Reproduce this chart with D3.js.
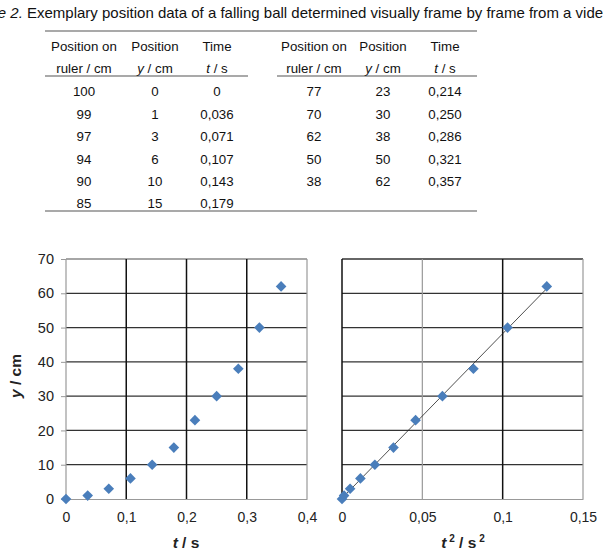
<!DOCTYPE html>
<html>
<head>
<script src="https://cdn.jsdelivr.net/npm/d3@7/dist/d3.min.js"></script>
<style>
  body { margin: 0; background: #fff; }
  text { font-family: "Liberation Sans", Arial, sans-serif; }
</style>
</head>
<body>
<script>
// table data
var ruler = [100, 99, 97, 94, 90, 85, 77, 70, 62, 50, 38];
var posY = [0, 1, 3, 6, 10, 15, 23, 30, 38, 50, 62];
var timeT = ["0", "0,036", "0,071", "0,107", "0,143", "0,179", "0,214", "0,250", "0,286", "0,321", "0,357"];
var timeVal = [0, 0.036, 0.071, 0.107, 0.143, 0.179, 0.214, 0.250, 0.286, 0.321, 0.357];

var xTicks1 = [0, 0.1, 0.2, 0.3, 0.4];
var xTicks2 = [0, 0.05, 0.1, 0.15];
var yTicks = [0, 10, 20, 30, 40, 50, 60, 70];

var W = 603, H = 553;
var svg = d3.select('body').append('svg')
  .attr('width', W).attr('height', H);

// caption
var cap = svg.append('text').attr('x', -30).attr('y', 18)
  .attr('font-size', 15).attr('fill', '#111');
cap.append('tspan').attr('font-style', 'italic').text('Table 2.');
cap.append('tspan').text(' Exemplary position data of a falling ball determined visually frame by frame from a video');

// table
var tbl = svg.append('g').attr('font-size', 13.3).attr('fill', '#111');
svg.append('line').attr('x1', 45).attr('x2', 477).attr('y1', 31).attr('y2', 31).attr('stroke', '#555').attr('stroke-width', 1.2);
svg.append('line').attr('x1', 45).attr('x2', 248).attr('y1', 76).attr('y2', 76).attr('stroke', '#555').attr('stroke-width', 1.2);
svg.append('line').attr('x1', 277).attr('x2', 477).attr('y1', 76).attr('y2', 76).attr('stroke', '#555').attr('stroke-width', 1.2);
svg.append('line').attr('x1', 45).attr('x2', 477).attr('y1', 211).attr('y2', 211).attr('stroke', '#555').attr('stroke-width', 1.2);

var colX = [[84, 155, 217], [314, 383, 445]];
var rowY = [96, 118.5, 141, 163.5, 186, 208];

colX.forEach(function(cx) {
  tbl.append('text').attr('x', cx[0]).attr('y', 51).attr('text-anchor', 'middle').text('Position on');
  tbl.append('text').attr('x', cx[0]).attr('y', 73).attr('text-anchor', 'middle').text('ruler / cm');
  tbl.append('text').attr('x', cx[1]).attr('y', 51).attr('text-anchor', 'middle').text('Position');
  var t2 = tbl.append('text').attr('x', cx[1]).attr('y', 73).attr('text-anchor', 'middle');
  t2.append('tspan').attr('font-style', 'italic').text('y');
  t2.append('tspan').text(' / cm');
  tbl.append('text').attr('x', cx[2]).attr('y', 51).attr('text-anchor', 'middle').text('Time');
  var t3 = tbl.append('text').attr('x', cx[2]).attr('y', 73).attr('text-anchor', 'middle');
  t3.append('tspan').attr('font-style', 'italic').text('t');
  t3.append('tspan').text(' / s');
});

ruler.forEach(function(r, i) {
  var c = i < 6 ? colX[0] : colX[1];
  var ry = rowY[i < 6 ? i : i - 6];
  tbl.append('text').attr('x', c[0]).attr('y', ry).attr('text-anchor', 'middle').text(r);
  tbl.append('text').attr('x', c[1]).attr('y', ry).attr('text-anchor', 'middle').text(posY[i]);
  tbl.append('text').attr('x', c[2]).attr('y', ry).attr('text-anchor', 'middle').text(timeT[i]);
});

// charts
var plotTop = 259, plotBottom = 499;
var y = d3.scaleLinear().domain([0, 70]).range([plotBottom, plotTop]);
var fmt = function(d) { return String(d).replace('.', ','); };
var blue = '#4a7ebb';
var diamond = d3.symbol().type(d3.symbolDiamond2).size(72);

function chart(x, ticks, darkV, leftDark, withYAxis) {
  var g = svg.append('g');
  // horizontal grid
  g.selectAll('.hg').data(yTicks.slice(1)).enter().append('line')
    .attr('x1', x.range()[0]).attr('x2', x.range()[1])
    .attr('y1', y).attr('y2', y)
    .attr('stroke', function(d) { return (d === 70 && !leftDark) ? '#888' : '#333'; })
    .attr('stroke-width', 1.3);
  // vertical grid
  g.selectAll('.vg').data(ticks.slice(1)).enter().append('line')
    .attr('x1', x).attr('x2', x).attr('y1', plotTop).attr('y2', plotBottom)
    .attr('stroke', function(d) { return darkV.indexOf(d) >= 0 ? '#111' : '#999'; })
    .attr('stroke-width', function(d) { return darkV.indexOf(d) >= 0 ? 1.5 : 1.2; });
  // left border
  g.append('line').attr('x1', x.range()[0]).attr('x2', x.range()[0]).attr('y1', plotTop).attr('y2', plotBottom)
    .attr('stroke', leftDark ? '#111' : '#999').attr('stroke-width', leftDark ? 1.5 : 1.2);
  // bottom axis
  var xa = g.append('g').attr('transform', 'translate(0,' + plotBottom + ')')
    .call(d3.axisBottom(x).tickValues(ticks).tickFormat(fmt).tickSize(0).tickPadding(13));
  xa.select('.domain').attr('stroke', '#999').attr('stroke-width', 1.2);
  xa.selectAll('text').attr('font-size', 14).attr('fill', '#222')
    .attr('font-family', '"Liberation Sans", Arial, sans-serif');
  if (withYAxis) {
    var ya = g.append('g').attr('transform', 'translate(' + x.range()[0] + ',0)')
      .call(d3.axisLeft(y).tickValues(yTicks).tickSize(5).tickPadding(7));
    ya.select('.domain').remove();
    ya.selectAll('line').attr('stroke', '#999');
    ya.selectAll('text').attr('font-size', 14.5).attr('fill', '#222')
      .attr('font-family', '"Liberation Sans", Arial, sans-serif');
  }
  return g;
}

var x1 = d3.scaleLinear().domain([0, 0.4]).range([66, 307]);
var g1 = chart(x1, xTicks1, [0.1, 0.2, 0.3], false, true);
g1.selectAll('.pt').data(timeVal).enter().append('path')
  .attr('d', diamond)
  .attr('transform', function(d, i) { return 'translate(' + x1(d) + ',' + y(posY[i]) + ')'; })
  .attr('fill', blue);

var x2 = d3.scaleLinear().domain([0, 0.15]).range([342, 583]);
var tsq = timeVal.map(function(d) { return d * d; });
var g2 = chart(x2, xTicks2, [0.1], true, false);

// linear trendline (least squares)
var mx = d3.mean(tsq), my = d3.mean(posY);
var slope = d3.sum(tsq, function(d, i) { return (d - mx) * (posY[i] - my); }) /
            d3.sum(tsq, function(d) { return (d - mx) * (d - mx); });
var icpt = my - slope * mx;
var xEnd = d3.max(tsq);
g2.append('line')
  .attr('x1', x2(0)).attr('y1', y(icpt))
  .attr('x2', x2(xEnd)).attr('y2', y(icpt + slope * xEnd))
  .attr('stroke', '#222').attr('stroke-width', 0.8);
g2.selectAll('.pt').data(tsq).enter().append('path')
  .attr('d', diamond)
  .attr('transform', function(d, i) { return 'translate(' + x2(d) + ',' + y(posY[i]) + ')'; })
  .attr('fill', blue);

// axis titles
var at1 = svg.append('text').attr('x', 186).attr('y', 548).attr('text-anchor', 'middle')
  .attr('font-size', 15.5).attr('font-weight', 'bold').attr('fill', '#222');
at1.append('tspan').attr('font-style', 'italic').text('t');
at1.append('tspan').text(' / s');

var at2 = svg.append('text').attr('x', 463).attr('y', 548).attr('text-anchor', 'middle')
  .attr('font-size', 15.5).attr('font-weight', 'bold').attr('fill', '#222');
at2.append('tspan').attr('font-style', 'italic').text('t');
at2.append('tspan').attr('font-size', 10).attr('dy', -6).text(' 2');
at2.append('tspan').attr('dy', 6).text(' / s');
at2.append('tspan').attr('font-size', 10).attr('dy', -6).text(' 2');

var at3 = svg.append('text').attr('transform', 'translate(21,376) rotate(-90)')
  .attr('text-anchor', 'middle').attr('font-size', 15.5).attr('font-weight', 'bold').attr('fill', '#222');
at3.append('tspan').attr('font-style', 'italic').text('y');
at3.append('tspan').text(' / cm');
</script>
</body>
</html>
